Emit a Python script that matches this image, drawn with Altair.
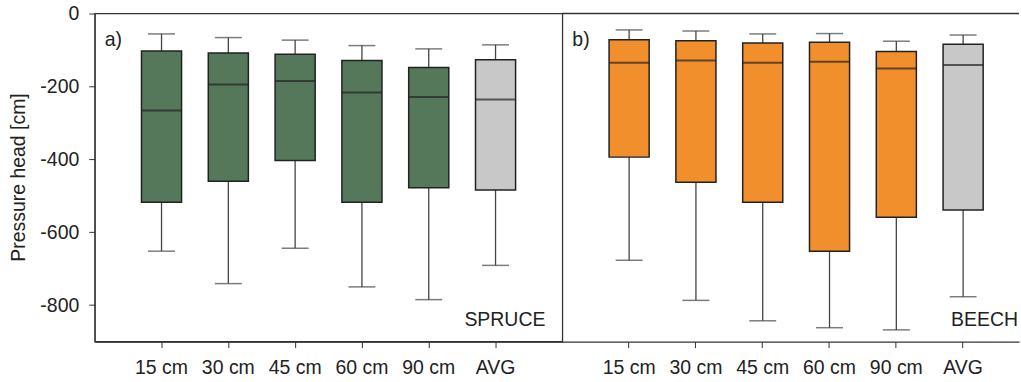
import altair as alt
import pandas as pd

cats = ["15 cm", "30 cm", "45 cm", "60 cm", "90 cm", "AVG"]

spruce_upper = [-56, -66, -73, -88, -97, -86]
spruce_q3 = [-103, -108, -112, -129, -148, -127]
spruce_med = [-266, -195, -185, -217, -229, -236]
spruce_q1 = [-518, -460, -403, -518, -478, -484]
spruce_lower = [-652, -741, -644, -750, -785, -691]

beech_upper = [-45, -48, -56, -55, -76, -59]
beech_q3 = [-72, -75, -81, -79, -104, -84]
beech_med = [-135, -129, -135, -132, -151, -141]
beech_q1 = [-394, -463, -518, -652, -559, -539]
beech_lower = [-677, -787, -843, -862, -868, -777]

y_ticks = [0, -200, -400, -600, -800]

FONT = "Liberation Sans"
DARK = "#222222"
WHISK = "#444444"

color_scale = alt.Scale(domain=["SPRUCE", "BEECH", "AVG"],
                        range=["#56785a", "#f28f2d", "#c8c8c8"])
y_scale = alt.Scale(domain=[-900, 0], nice=False, zero=False)


def panel(name, upper, q3, med, q1, lower, width, xscale, show_y, tag, name_x):
    df = pd.DataFrame({
        "depth": cats,
        "upper": upper,
        "q3": q3,
        "med": med,
        "q1": q1,
        "lower": lower,
        "kind": ["AVG" if c == "AVG" else name for c in cats],
    })
    xenc = alt.X("depth:N", sort=cats, scale=xscale,
                 axis=alt.Axis(title=None, labelAngle=0, tickSize=6, labelPadding=11,
                               domainColor="#333", tickColor="#333", domainWidth=1.3,
                               labelFontSize=19.5, labelColor=DARK, labelFont=FONT))
    if show_y:
        yaxis = alt.Axis(values=y_ticks, labelExpr="'' + datum.value", grid=False,
                         tickSize=6, labelPadding=10, labelFontSize=19.5, labelColor=DARK,
                         labelFont=FONT, domainColor="#333", tickColor="#333",
                         title="Pressure head [cm]", titleFontSize=19.5,
                         titleFontWeight="normal", titleColor=DARK, titleFont=FONT,
                         titleX=-76, titleY=164, titleAngle=270,
                         titleBaseline="middle", titleAlign="center")
    else:
        yaxis = None

    def Y(field):
        return alt.Y(field, scale=y_scale, axis=yaxis)

    base = alt.Chart(df)
    whisk = base.mark_rule(color=WHISK, strokeWidth=1.3).encode(
        x=xenc, y=Y("lower:Q"), y2="upper:Q")
    box = base.mark_bar(stroke=DARK, strokeWidth=1.5).encode(
        x=xenc, y=Y("q3:Q"), y2="q1:Q",
        color=alt.Color("kind:N", scale=color_scale, legend=None))
    median = base.mark_tick(size=40, thickness=2, color=DARK).encode(
        x=xenc, y=Y("med:Q"))
    cap_hi = base.mark_tick(size=27, thickness=1.5, color=WHISK).encode(
        x=xenc, y=Y("upper:Q"))
    cap_lo = base.mark_tick(size=27, thickness=1.5, color=WHISK).encode(
        x=xenc, y=Y("lower:Q"))

    tag_txt = alt.Chart(pd.DataFrame({"t": [tag]})).mark_text(
        align="left", baseline="middle", fontSize=19.5, font=FONT, color=DARK
    ).encode(text="t:N", x=alt.value(10), y=alt.value(27))
    name_txt = alt.Chart(pd.DataFrame({"t": [name]})).mark_text(
        align="right", baseline="middle", fontSize=19.5, font=FONT, color=DARK
    ).encode(text="t:N", x=alt.value(name_x), y=alt.value(307))

    return [whisk, box, median, cap_hi, cap_lo, tag_txt, name_txt]


left_layers = panel("SPRUCE", spruce_upper, spruce_q3, spruce_med, spruce_q1, spruce_lower,
                    469, alt.Scale(paddingInner=0.4, paddingOuter=0.7), True, "a)", 452)
left = alt.layer(*left_layers).properties(
    width=469, height=329,
    view=alt.ViewBackground(stroke="#333", strokeWidth=1.3))

right_layers = panel("BEECH", beech_upper, beech_q3, beech_med, beech_q1, beech_lower,
                     458, alt.Scale(paddingInner=0.4, paddingOuter=0.618, align=0.566),
                     False, "b)", 457)
top_line = alt.Chart(pd.DataFrame({"a": [0]})).mark_rule(color="#333", strokeWidth=1.3).encode(
    x=alt.value(0), x2=alt.value(458), y=alt.value(0))
right = alt.layer(*right_layers, top_line).properties(
    width=458, height=329,
    view=alt.ViewBackground(stroke="transparent"))

chart = alt.hconcat(left, right, spacing=0, bounds="flush").properties(
    padding={"left": 8, "top": 2, "right": 0, "bottom": 0},
).configure(font=FONT).configure_view(strokeWidth=1.3)

chart.save("out.html", embed_options={"renderer": "svg", "actions": False})
